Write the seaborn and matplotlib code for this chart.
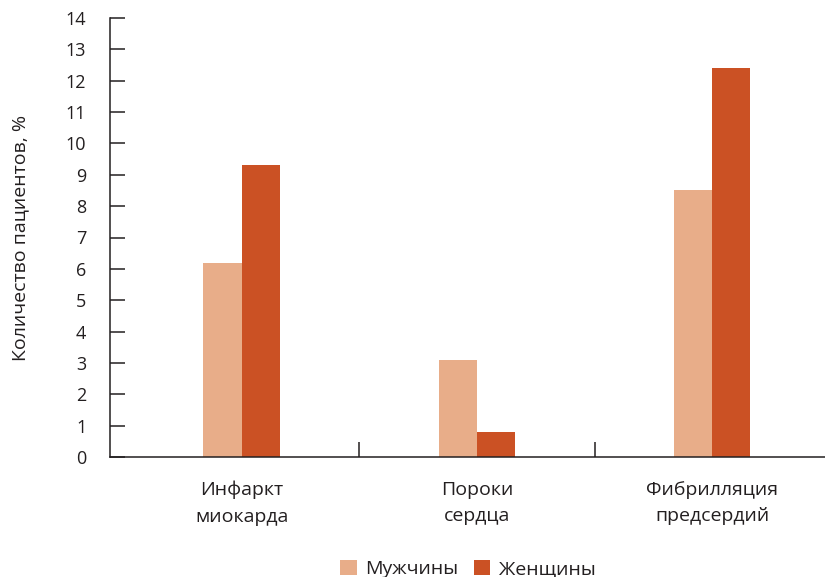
import matplotlib
matplotlib.use("Agg")
import matplotlib.pyplot as plt
import seaborn as sns
import pandas as pd
from matplotlib.patches import Patch

categories = ["Инфаркт\nмиокарда", "Пороки\nсердца", "Фибрилляция\nпредсердий"]
men = [6.2, 3.1, 8.5]
women = [9.3, 0.8, 12.4]
groups = ["Мужчины", "Женщины"]
y_ticks = list(range(0, 15))

colors = {"Мужчины": "#E8AD89", "Женщины": "#CB5124"}

df = pd.DataFrame({
    "category": categories * 2,
    "group": [groups[0]] * 3 + [groups[1]] * 3,
    "value": men + women,
})

sns.set_style("white")
plt.rcParams["font.family"] = ["Open Sans", "DejaVu Sans"]

fig = plt.figure(figsize=(8.25, 5.77), dpi=100)
ax = fig.add_axes([110 / 825, 1 - 457 / 577, 1 - 110 / 825, (457 - 18) / 577])

sns.barplot(data=df, x="category", y="value", hue="group", order=categories,
            hue_order=groups, palette=colors, width=0.325, saturation=1,
            errorbar=None, ax=ax, legend=False, linewidth=0)

ax.set_ylim(0, 14)
ax.set_xlim(-0.56, 2.48)
ax.set_yticks(y_ticks)
ax.set_yticklabels([str(t) for t in y_ticks])

for side in ("top", "right"):
    ax.spines[side].set_visible(False)
for side in ("left", "bottom"):
    ax.spines[side].set_color("#231F20")
    ax.spines[side].set_linewidth(1.1)

ax.tick_params(axis="y", left=True, direction="in", length=11, width=1.1,
               color="#231F20", pad=17, labelsize=13, labelcolor="#231F20")
ax.tick_params(axis="x", which="major", bottom=True, length=0, pad=17,
               labelsize=14, labelcolor="#231F20")
ax.set_xticks([0.5, 1.5], minor=True)
ax.tick_params(axis="x", which="minor", bottom=True, direction="in", length=11,
               width=1.1, color="#231F20")
for lbl in ax.get_xticklabels():
    lbl.set_linespacing(1.6)

ax.set_xlabel("")
ax.set_ylabel("Количество пациентов, %", fontsize=14, color="#231F20", labelpad=26)

handles = [Patch(facecolor=colors[g], edgecolor="none", label=g) for g in groups]
fig.legend(handles=handles, loc="center", bbox_to_anchor=(468 / 825, 1 - 569 / 577),
           ncol=2, frameon=False, fontsize=14, handlelength=0.85, handleheight=0.85,
           handletextpad=0.45, columnspacing=0.8, labelcolor="#231F20")

fig.savefig("out.png", dpi=100)
